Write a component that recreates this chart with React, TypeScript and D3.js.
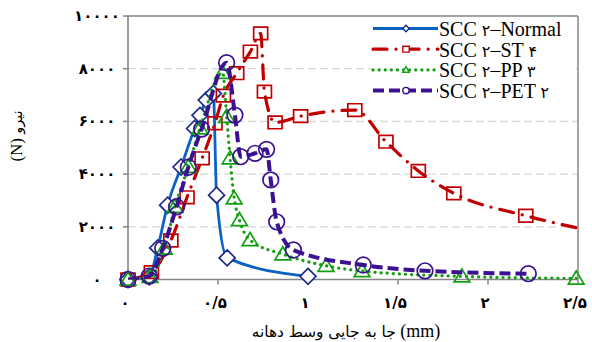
import React from 'react';
import * as d3 from 'd3';

const seriesNames = ['SCC ۲–Normal', 'SCC ۲–ST ۴', 'SCC ۲–PP ۳', 'SCC ۲–PET ۲'];

const normalX = [0, 0.118, 0.165, 0.22, 0.295, 0.37, 0.4, 0.435, 0.474, 0.492, 0.551, 1.0];
const normalY = [0, 100, 1200, 2820, 4270, 5730, 6230, 6810, 7060, 3200, 820, 120];

const stX = [0, 0.13, 0.238, 0.328, 0.412, 0.483, 0.53, 0.604, 0.68, 0.737, 0.758, 0.817, 0.959, 1.26, 1.433, 1.613, 1.81, 2.21, 2.5];
const stY = [0, 280, 1480, 3120, 4600, 5930, 6980, 7830, 8650, 9340, 7130, 5960, 6200, 6430, 5230, 4120, 3270, 2420, 1950];

const ppX = [0, 0.122, 0.202, 0.261, 0.335, 0.4, 0.526, 0.548, 0.567, 0.59, 0.619, 0.678, 0.86, 1.1, 1.3, 1.855, 2.49];
const ppY = [0, 100, 1180, 2760, 4280, 5740, 7850, 6180, 4600, 3080, 2260, 1500, 960, 520, 320, 120, 40];

const petX = [0, 0.118, 0.193, 0.27, 0.335, 0.409, 0.548, 0.594, 0.626, 0.706, 0.77, 0.793, 0.826, 0.919, 1.307, 1.65, 2.224];
const petY = [0, 130, 1180, 2760, 4260, 5710, 8230, 6240, 4660, 4790, 4940, 3780, 2190, 1120, 550, 330, 220];

const xTicks = [0, 0.5, 1, 1.5, 2, 2.5];
const yTicks = [0, 2000, 4000, 6000, 8000, 10000];

const yTitle = '(N) نیرو';
const xTitle = 'جا به جایی وسط دهانه (mm)';

const fa = (v: number) =>
  String(v).replace('.', '/').replace(/[0-9]/g, (d) => '۰۱۲۳۴۵۶۷۸۹'[+d]);

type Series = {
  xs: number[];
  ys: number[];
  color: string;
  mColor: string;
  width: number;
  dash: string;
  cap: 'butt' | 'round';
  marker: 'diamond' | 'square' | 'triangle' | 'circle';
  fill: string;
  skipLastMarker?: boolean;
};

const series: Series[] = [
  { xs: normalX, ys: normalY, color: '#0b62c4', mColor: '#1c2a8c', width: 2.8, dash: 'none', cap: 'butt', marker: 'diamond', fill: '#ffffff' },
  { xs: stX, ys: stY, color: '#c00000', mColor: '#c00000', width: 3.2, dash: '14 9 0.1 9', cap: 'round', marker: 'square', fill: 'none', skipLastMarker: true },
  { xs: ppX, ys: ppY, color: '#12a012', mColor: '#12a012', width: 3.2, dash: '0.1 6', cap: 'round', marker: 'triangle', fill: 'none' },
  { xs: petX, ys: petY, color: '#3b1191', mColor: '#3b1191', width: 4, dash: '11 5', cap: 'butt', marker: 'circle', fill: 'none' },
];

const W = 592;
const H = 342;
const L = 128;
const R = 578;
const T = 16;
const B = 279.5;

const SERIF = '"Liberation Serif", "Times New Roman", Tinos, "DejaVu Serif", serif';
const ARABIC = '"DejaVu Sans", sans-serif';

// split text into Persian / non-Persian runs so each gets its own font
function runs(text: string) {
  const re = /[\u0600-\u06FF](?:[\u0600-\u06FF\s]*[\u0600-\u06FF])?/g;
  const out: { t: string; fa: boolean }[] = [];
  let last = 0;
  let m: RegExpExecArray | null;
  while ((m = re.exec(text))) {
    if (m.index > last) out.push({ t: text.slice(last, m.index), fa: false });
    out.push({ t: m[0], fa: true });
    last = m.index + m[0].length;
  }
  if (last < text.length) out.push({ t: text.slice(last), fa: false });
  return out;
}

function Mixed({ text, faScale = 1 }: { text: string; faScale?: number }) {
  return (
    <>
      {runs(text).map((r, i) => (
        <tspan key={i} style={{ fontFamily: r.fa ? ARABIC : SERIF }} fontSize={r.fa ? `${faScale}em` : undefined}>
          {r.t}
        </tspan>
      ))}
    </>
  );
}

function markerPath(kind: string, s: number) {
  if (kind === 'diamond') return `M0,${-s}L${s},0L0,${s}L${-s},0Z`;
  if (kind === 'square') return `M${-s},${-s * 0.9}H${s}V${s * 0.9}H${-s}Z`;
  if (kind === 'triangle') return `M0,${-s}L${s * 1.05},${s * 0.75}H${-s * 1.05}Z`;
  return '';
}

function Marker({ kind, x, y, s, color, fill, sw }: { kind: string; x: number; y: number; s: number; color: string; fill: string; sw: number }) {
  if (kind === 'circle') {
    return <circle cx={x} cy={y} r={s} fill={fill} stroke={color} strokeWidth={sw} />;
  }
  return <path d={markerPath(kind, s)} transform={`translate(${x},${y})`} fill={fill} stroke={color} strokeWidth={sw} />;
}

export default function App() {
  const x = d3.scaleLinear().domain([0, 2.5]).range([L, R]);
  const y = d3.scaleLinear().domain([0, 10000]).range([B, T]);

  const sizes: Record<string, number> = { diamond: 8, square: 7, triangle: 7.5, circle: 7.8 };
  const legendY0 = 28.5;
  const legendStep = 20.7;

  return (
    <svg width={W} height={H} style={{ position: 'absolute', left: 0, top: 0, background: '#fff' }}>
      <defs>
        <clipPath id="plot">
          <rect x={L} y={T - 10} width={R - L} height={B - T + 10} />
        </clipPath>
      </defs>
      <rect x={0} y={0} width={W} height={H} fill="#fff" />
      {yTicks.filter((t) => t > 0 && t < 10000).map((t) => (
        <line key={t} x1={L} x2={R} y1={y(t)} y2={y(t)} stroke="#d6d6d6" strokeWidth={1.2} strokeDasharray="8 4" />
      ))}
      <line x1={L} x2={R} y1={T} y2={T} stroke="#868686" strokeWidth={1.5} />
      <line x1={R} x2={R} y1={T} y2={B} stroke="#868686" strokeWidth={1.5} />
      <line x1={L} x2={L} y1={T} y2={B} stroke="#868686" strokeWidth={1.6} />
      <line x1={L} x2={R} y1={B} y2={B} stroke="#868686" strokeWidth={1.6} />
      {yTicks.map((t) => (
        <g key={t}>
          <line x1={L - 5} x2={L} y1={y(t)} y2={y(t)} stroke="#868686" strokeWidth={1.5} />
          <text x={97} y={y(t) + 5} textAnchor="middle" fontSize={15} fontWeight="bold" fill="#000" style={{ fontFamily: ARABIC }}>{fa(t)}</text>
        </g>
      ))}
      {xTicks.map((t) => (
        <g key={t}>
          <line x1={x(t)} x2={x(t)} y1={B} y2={B + 5} stroke="#868686" strokeWidth={1.5} />
          <text x={x(t) - 3} y={308} textAnchor="middle" fontSize={15} fontWeight="bold" fill="#000" style={{ fontFamily: ARABIC }}>{fa(t)}</text>
        </g>
      ))}
      <text transform={`translate(22,136) rotate(-90)`} textAnchor="middle" fontSize={17} fill="#000"><Mixed text={yTitle} faScale={0.85} /></text>
      <text x={346} y={337} textAnchor="middle" fontSize={18} fill="#000"><Mixed text={xTitle} faScale={0.85} /></text>

      {series.map((s, i) => {
        const pts = s.xs.map((v, j) => [x(v), y(s.ys[j])] as [number, number]);
        const line = d3.line().curve(d3.curveMonotoneX)(pts) || '';
        return (
          <g key={i}>
            <path d={line} fill="none" stroke={s.color} strokeWidth={s.width} strokeDasharray={s.dash} strokeLinecap={s.cap} clipPath="url(#plot)" />
            {pts.map((p, j) =>
              s.skipLastMarker && j === pts.length - 1 ? null : (
                <Marker key={j} kind={s.marker} x={p[0]} y={p[1]} s={sizes[s.marker]} color={s.mColor} fill={s.fill} sw={1.7} />
              )
            )}
          </g>
        );
      })}

      <rect x={371} y={18} width={205} height={82} fill="#fff" />
      {series.map((s, i) => {
        const ly = legendY0 + i * legendStep;
        return (
          <g key={i}>
            <line x1={373} x2={438} y1={ly} y2={ly} stroke={s.color} strokeWidth={s.width} strokeDasharray={s.dash} strokeLinecap={s.cap} />
            <Marker kind={s.marker} x={406} y={ly} s={3.2} color={s.mColor} fill="#fff" sw={1.4} />
            <text x={439} y={ly + 7.5} fontSize={20} fill="#000"><Mixed text={seriesNames[i]} faScale={0.8} /></text>
          </g>
        );
      })}
    </svg>
  );
}
